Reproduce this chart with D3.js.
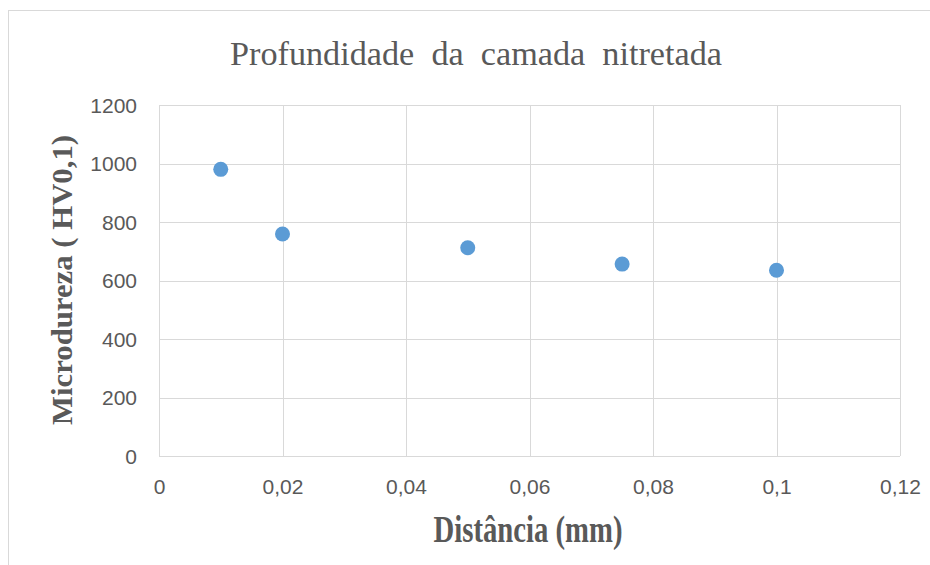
<!DOCTYPE html>
<html>
<head>
<meta charset="utf-8">
<script src="https://cdn.jsdelivr.net/npm/d3@7"></script>
<style>
  html, body { margin: 0; padding: 0; background: #fff; }
  svg { display: block; }
</style>
</head>
<body>
<svg id="chart" width="930" height="565"></svg>
<script>
// ---- data ----
const distances = [0.01, 0.02, 0.05, 0.075, 0.1];
const hardness = [980, 759, 712, 656, 635];
const xTicks = [0, 0.02, 0.04, 0.06, 0.08, 0.1, 0.12];
const xTickLabels = ["0", "0,02", "0,04", "0,06", "0,08", "0,1", "0,12"];
const yTicks = [0, 200, 400, 600, 800, 1000, 1200];
const yTickLabels = ["0", "200", "400", "600", "800", "1000", "1200"];
const titleText = "Profundidade  da  camada  nitretada";
const xTitleText = "Distância (mm)";
const yTitleText = "Microdureza ( HV0,1)";

const svg = d3.select("#chart");
const W = 930, H = 565;
const plot = { left: 159, right: 900, top: 105, bottom: 456 };

// outer chart border
svg.append("rect")
  .attr("x", 8.5).attr("y", 10.5)
  .attr("width", W).attr("height", H)
  .attr("fill", "#fff").attr("stroke", "#d9d9d9").attr("stroke-width", 1);

const x = d3.scaleLinear().domain([0, 0.12]).range([plot.left, plot.right]);
const y = d3.scaleLinear().domain([0, 1200]).range([plot.bottom, plot.top]);

// gridlines
const grid = svg.append("g");
grid.selectAll("line.h").data(yTicks).join("line")
  .attr("x1", plot.left).attr("x2", plot.right)
  .attr("y1", d => Math.round(y(d)) + 0.5).attr("y2", d => Math.round(y(d)) + 0.5)
  .attr("stroke", "#d9d9d9").attr("stroke-width", 1);
grid.selectAll("line.v").data(xTicks).join("line")
  .attr("y1", plot.top).attr("y2", plot.bottom)
  .attr("x1", d => Math.round(x(d)) + 0.5).attr("x2", d => Math.round(x(d)) + 0.5)
  .attr("stroke", "#d9d9d9").attr("stroke-width", 1);

// axes (labels only)
const xAxis = d3.axisBottom(x).tickValues(xTicks)
  .tickFormat((d, i) => xTickLabels[i]).tickSize(0).tickPadding(0);
const gx = svg.append("g").attr("transform", `translate(0, ${plot.bottom})`).call(xAxis);
gx.select(".domain").remove();
gx.selectAll("text")
  .attr("y", 38).attr("dy", null)
  .attr("font-family", "'Liberation Sans', Arial, sans-serif")
  .attr("font-size", 21).attr("fill", "#595959");

const yAxis = d3.axisLeft(y).tickValues(yTicks)
  .tickFormat((d, i) => yTickLabels[i]).tickSize(0).tickPadding(0);
const gy = svg.append("g").attr("transform", `translate(137, 0)`).call(yAxis);
gy.select(".domain").remove();
gy.selectAll("text")
  .attr("x", 0).attr("dy", "0.35em")
  .attr("font-family", "'Liberation Sans', Arial, sans-serif")
  .attr("font-size", 21).attr("fill", "#595959");

// points
svg.append("g").selectAll("circle").data(distances).join("circle")
  .attr("cx", d => x(d))
  .attr("cy", (d, i) => y(hardness[i]))
  .attr("r", 7.5)
  .attr("fill", "#5B9BD5");

// title
svg.append("text")
  .attr("x", 476).attr("y", 65)
  .attr("text-anchor", "middle")
  .attr("font-family", "'Liberation Serif', 'Times New Roman', serif")
  .attr("font-size", 34).attr("fill", "#595959")
  .attr("textLength", 492).attr("lengthAdjust", "spacingAndGlyphs")
  .style("white-space", "pre")
  .text(titleText);

// x axis title
svg.append("text")
  .attr("x", 528).attr("y", 542)
  .attr("text-anchor", "middle")
  .attr("font-family", "'Liberation Serif', 'Times New Roman', serif")
  .attr("font-weight", "bold")
  .attr("font-size", 37).attr("fill", "#595959")
  .attr("textLength", 189).attr("lengthAdjust", "spacingAndGlyphs")
  .text(xTitleText);

// y axis title
svg.append("text")
  .attr("transform", "translate(72, 280) rotate(-90)")
  .attr("text-anchor", "middle")
  .attr("font-family", "'Liberation Serif', 'Times New Roman', serif")
  .attr("font-weight", "bold")
  .attr("font-size", 30).attr("fill", "#595959")
  .attr("textLength", 290).attr("lengthAdjust", "spacingAndGlyphs")
  .text(yTitleText);
</script>
</body>
</html>
